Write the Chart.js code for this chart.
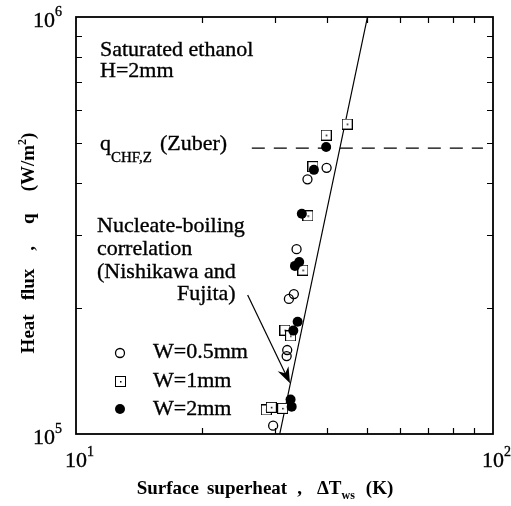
<!DOCTYPE html>
<html>
<head>
<meta charset="utf-8">
<script src="https://cdn.jsdelivr.net/npm/chart.js@4.4.0/dist/chart.umd.min.js"></script>
<style>
  html, body { margin: 0; padding: 0; background: #fff; }
  canvas { display: block; }
</style>
</head>
<body>
<canvas id="chartFlux" width="511" height="506"></canvas>
<script>
// W = 0.5 mm, open circles
var dtW05 = [29.7, 32.0, 32.1, 32.4, 33.3, 33.8, 35.9, 39.9];
var qW05  = [104700, 153800, 159000, 210800, 216600, 277500, 408000, 434700];
// W = 1 mm, squares
var dtW1 = [28.6, 29.4, 31.3, 31.7, 32.7, 35.0, 36.0, 37.0, 39.8, 44.7];
var qW1  = [114200, 115900, 115200, 177500, 171900, 247200, 333500, 437600, 521000, 553800];
// W = 2 mm, filled circles
var dtW2 = [32.7, 32.9, 33.2, 34.0, 33.5, 34.3, 34.8, 37.2, 39.8];
var qW2  = [121000, 116300, 177000, 185900, 253000, 258500, 337500, 430000, 487600];

// Nishikawa-Fujita correlation (end points)
var corrDT = [30.8, 50.0];
var corrQ  = [100000, 1000000];
// Zuber CHF level
var zuberDT = [26.4, 94.6];
var zuberQ  = [485000, 485000];
// arrow from the correlation label to the line
var arrowDT = [25.8, 32.6];
var arrowQ  = [215500, 132400];

var xMinor = [20, 30, 40, 50, 60, 70, 80, 90];
var yMinor = [200000, 300000, 400000, 500000, 600000, 700000, 800000, 900000];

var SERIF = '"Liberation Serif", "Times New Roman", serif';

function pts(xs, ys) {
  return xs.map(function (x, i) { return { x: x, y: ys[i] }; });
}

function squareDot() {
  var c = document.createElement('canvas');
  c.width = 11; c.height = 11;
  var g = c.getContext('2d');
  g.fillStyle = '#000';
  g.fillRect(0, 0, 11, 11);
  g.fillStyle = '#fff';
  g.fillRect(1, 1, 9, 9);
  g.fillStyle = '#000';
  g.fillRect(5, 5, 1.5, 1.5);
  return c;
}
var sqImg = squareDot();

// text pieces: [text, size, dy, bold] or a number for a blank gap
function textWidth(ctx, parts) {
  var w = 0;
  parts.forEach(function (p) {
    if (typeof p === 'number') { w += p; return; }
    ctx.font = (p[3] ? 'bold ' : '') + p[1] + 'px ' + SERIF;
    w += ctx.measureText(p[0]).width;
  });
  return w;
}
function drawParts(ctx, x, y, parts) {
  parts.forEach(function (p) {
    if (typeof p === 'number') { x += p; return; }
    ctx.font = (p[3] ? 'bold ' : '') + p[1] + 'px ' + SERIF;
    ctx.fillText(p[0], x, y + p[2]);
    if (!p[3]) {
      ctx.lineWidth = 0.35;
      ctx.strokeText(p[0], x, y + p[2]);
    }
    x += ctx.measureText(p[0]).width;
  });
  return x;
}

var decorations = {
  id: 'decorations',
  afterDraw: function (chart) {
    var ctx = chart.ctx, a = chart.chartArea;
    var xs = chart.scales.x, ys = chart.scales.y;
    ctx.save();
    ctx.strokeStyle = '#000';
    ctx.fillStyle = '#000';
    ctx.textBaseline = 'alphabetic';
    ctx.textAlign = 'left';

    // frame
    ctx.lineWidth = 1.8;
    ctx.strokeRect(a.left, a.top, a.right - a.left, a.bottom - a.top);

    // inward ticks on all four sides
    ctx.lineWidth = 1.2;
    ctx.beginPath();
    xMinor.forEach(function (v) {
      var px = Math.round(xs.getPixelForValue(v)) + 0.5;
      ctx.moveTo(px, a.bottom); ctx.lineTo(px, a.bottom - 6);
      ctx.moveTo(px, a.top); ctx.lineTo(px, a.top + 6);
    });
    yMinor.forEach(function (v) {
      var py = Math.round(ys.getPixelForValue(v)) + 0.5;
      ctx.moveTo(a.left, py); ctx.lineTo(a.left + 6, py);
      ctx.moveTo(a.right, py); ctx.lineTo(a.right - 6, py);
    });
    ctx.stroke();

    // tick labels
    [[10, '1'], [100, '2']].forEach(function (t) {
      var px = xs.getPixelForValue(t[0]);
      ctx.font = '22px ' + SERIF;
      var w = ctx.measureText('10').width;
      drawParts(ctx, px - w / 2, a.bottom + 33, [['10', 22, 0], ['' + t[1], 14, -11]]);
    });
    [[1e6, '6'], [1e5, '5']].forEach(function (t) {
      var py = ys.getPixelForValue(t[0]);
      ctx.font = '22px ' + SERIF;
      var w = ctx.measureText('10').width;
      drawParts(ctx, 55 - w, py + 10, [['10', 22, 0], [t[1], 14, -11]]);
    });

    // axis titles
    var xt = [['Surface', 19, 0, true], 8, ['superheat', 19, 0, true], 10, [',', 19, 0, true], 15,
              ['\u0394T', 19, 0, true], ['ws', 12, 5, true], 11, ['(K)', 19, 0, true]];
    var xw = textWidth(ctx, xt);
    drawParts(ctx, 265 - xw / 2, 494, xt);

    var yt = [['Heat', 19, 0, true], 14, ['flux', 19, 0, true], 18, [',', 19, 0, true], 22,
              ['q', 19, 0, true], 22, ['(W/m', 19, 0, true], ['2', 12, -8, true], [')', 19, 0, true]];
    var yw = textWidth(ctx, yt);
    ctx.save();
    ctx.translate(34, 243);
    ctx.rotate(-Math.PI / 2);
    drawParts(ctx, -yw / 2, 0, yt);
    ctx.restore();

    // annotations
    drawParts(ctx, 100, 56, [['Saturated ethanol', 22, 0]]);
    drawParts(ctx, 100, 77, [['H=2mm', 22, 0]]);
    var qx = drawParts(ctx, 100, 150, [['q', 22, 0], ['CHF,Z', 15, 12]]);
    drawParts(ctx, qx + 8, 150, [['(Zuber)', 22, 0]]);
    drawParts(ctx, 97, 232, [['Nucleate-boiling', 22, 0]]);
    drawParts(ctx, 97, 255, [['correlation', 22, 0]]);
    drawParts(ctx, 97, 278, [['(Nishikawa and', 22, 0]]);
    drawParts(ctx, 177, 300, [['Fujita)', 22, 0]]);

    // arrow
    var x0 = xs.getPixelForValue(arrowDT[0]), y0 = ys.getPixelForValue(arrowQ[0]);
    var x1 = xs.getPixelForValue(arrowDT[1]), y1 = ys.getPixelForValue(arrowQ[1]);
    var ang = Math.atan2(y1 - y0, x1 - x0);
    var c = Math.cos(ang), s = Math.sin(ang);
    ctx.lineWidth = 1.2;
    ctx.beginPath();
    ctx.moveTo(x0, y0);
    ctx.lineTo(x1 - 10 * c, y1 - 10 * s);
    ctx.stroke();
    ctx.beginPath();
    ctx.moveTo(x1, y1);
    ctx.lineTo(x1 - 16 * c + 6 * s, y1 - 16 * s - 6 * c);
    ctx.lineTo(x1 - 11 * c, y1 - 11 * s);
    ctx.lineTo(x1 - 16 * c - 6 * s, y1 - 16 * s + 6 * c);
    ctx.closePath();
    ctx.fill();

    // legend
    var lx = 120;
    ctx.lineWidth = 1.3;
    ctx.beginPath();
    ctx.arc(lx, 353, 4.5, 0, Math.PI * 2);
    ctx.stroke();
    ctx.drawImage(sqImg, lx - 5, 381 - 5);
    ctx.beginPath();
    ctx.arc(lx, 409, 5, 0, Math.PI * 2);
    ctx.fill();
    drawParts(ctx, 153, 358, [['W=0.5mm', 22, 0]]);
    drawParts(ctx, 153, 387, [['W=1mm', 22, 0]]);
    drawParts(ctx, 153, 415, [['W=2mm', 22, 0]]);

    ctx.restore();
  }
};

var config = {
  type: 'scatter',
  data: {
    datasets: [
      {
        label: 'W=2mm',
        data: pts(dtW2, qW2),
        pointStyle: 'circle',
        pointRadius: 5,
        backgroundColor: '#000',
        borderColor: '#000',
        borderWidth: 0
      },
      {
        label: 'W=1mm',
        data: pts(dtW1, qW1),
        pointStyle: sqImg
      },
      {
        label: 'W=0.5mm',
        data: pts(dtW05, qW05),
        pointStyle: 'circle',
        pointRadius: 4.5,
        backgroundColor: 'rgba(0,0,0,0)',
        borderColor: '#000',
        borderWidth: 1.3
      },
      {
        label: 'correlation',
        data: pts(corrDT, corrQ),
        showLine: true,
        pointRadius: 0,
        borderColor: '#000',
        borderWidth: 1.2
      },
      {
        label: 'Zuber',
        data: pts(zuberDT, zuberQ),
        showLine: true,
        pointRadius: 0,
        borderColor: '#000',
        borderWidth: 1.2,
        borderDash: [13, 9]
      }
    ]
  },
  options: {
    responsive: false,
    animation: false,
    layout: { padding: { left: 76, top: 17, right: 18, bottom: 72 } },
    plugins: { legend: { display: false }, tooltip: { enabled: false } },
    scales: {
      x: { type: 'logarithmic', min: 10, max: 100, display: false },
      y: { type: 'logarithmic', min: 100000, max: 1000000, display: false }
    }
  },
  plugins: [decorations]
};

window.onload = function () {
  var ctx = document.getElementById('chartFlux').getContext('2d');
  window.fluxChart = new Chart(ctx, config);
};
</script>
</body>
</html>
